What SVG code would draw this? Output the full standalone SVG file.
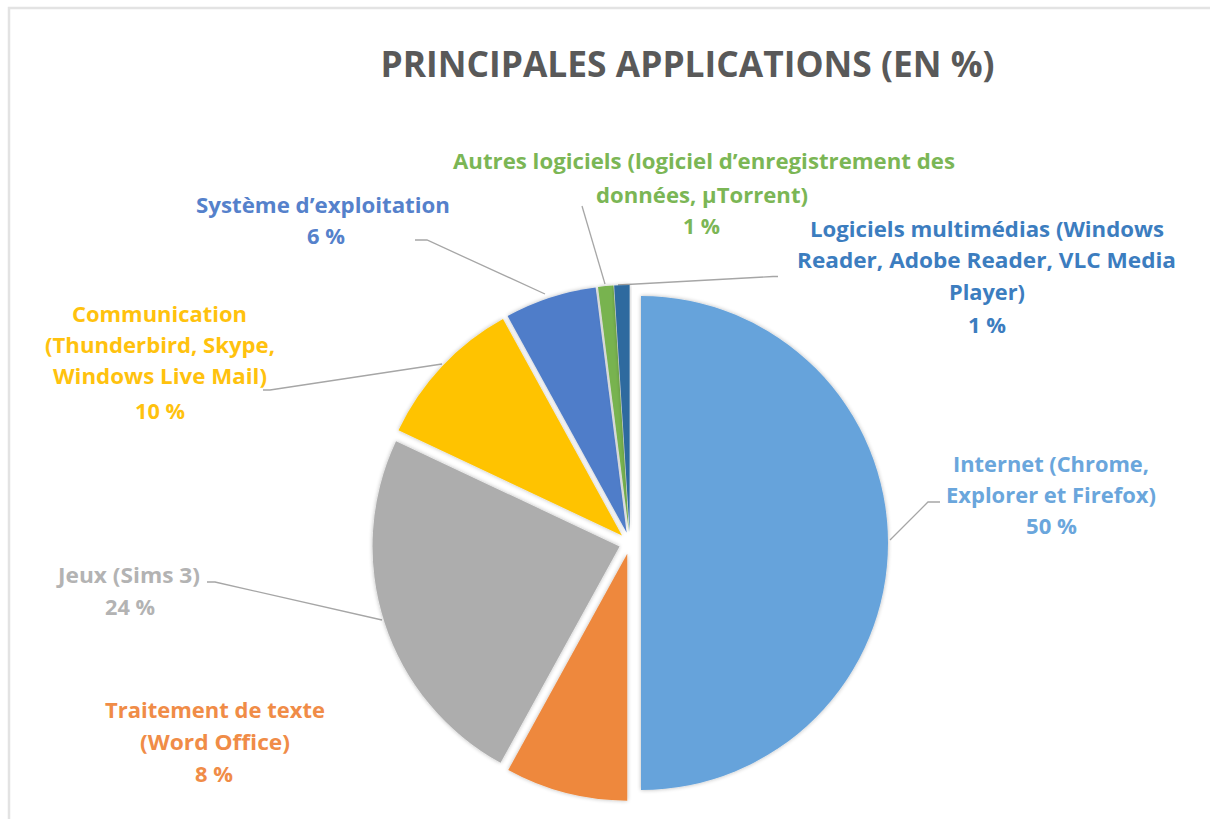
<svg xmlns="http://www.w3.org/2000/svg" width="1210" height="819" viewBox="0 0 1210 819">
<defs>
<filter id="sh" x="-10%" y="-10%" width="120%" height="120%">
<feGaussianBlur in="SourceAlpha" stdDeviation="2.2"/>
<feComponentTransfer><feFuncA type="linear" slope="0.28"/></feComponentTransfer>
<feMerge><feMergeNode/><feMergeNode in="SourceGraphic"/></feMerge>
</filter>
</defs>
<style>
.lbl{font-family:"Open Sans","Liberation Sans",sans-serif;font-weight:bold;font-size:21px;text-anchor:middle}
.title{font-family:"Open Sans","Liberation Sans",sans-serif;font-weight:bold;font-size:36px;text-anchor:middle;fill:#595959}
.lead{fill:none;stroke:#A6A6A6;stroke-width:1.3}
.slice{filter:url(#sh)}
</style>
<rect x="0" y="0" width="1210" height="819" fill="#FFFFFF"/>
<path d="M9,819 V8 H1210" fill="none" stroke="#E3E3E3" stroke-width="2.5"/>
<text class="title" x="687.5" y="77" textLength="614" lengthAdjust="spacingAndGlyphs">PRINCIPALES APPLICATIONS (EN %)</text>

<g id="connectors">
<polyline class="lead" points="415,240 427,240 545,294"/>
<polyline class="lead" points="582,206 605,284"/>
<polyline class="lead" points="618,285 773,276.5 778,276.5"/>
<polyline class="lead" points="263,390 270,390 442,364"/>
<polyline class="lead" points="207,582 215,582 382,620"/>
<polyline class="lead" points="940,502 928,502 890,540"/>
</g>

<g id="internet">
<path class="slice" d="M641,543 L641,296 A247,247 0 0 1 641,790 Z" fill="#66A3DB"/>
<g class="lbl" fill="#6AA6DC">
<text x="1051" y="472" textLength="196" lengthAdjust="spacingAndGlyphs">Internet (Chrome,</text>
<text x="1051" y="503" textLength="210" lengthAdjust="spacingAndGlyphs">Explorer et Firefox)</text>
<text x="1051.5" y="534" textLength="51" lengthAdjust="spacingAndGlyphs">50 %</text>
</g>
</g>

<g id="traitement">
<path class="slice" d="M627.26,553.65 L627.26,800.65 A247,247 0 0 1 508.26,770.1 Z" fill="#EE883C"/>
<g class="lbl" fill="#F08C47">
<text x="215" y="718" textLength="220" lengthAdjust="spacingAndGlyphs">Traitement de texte</text>
<text x="215" y="750" textLength="150" lengthAdjust="spacingAndGlyphs">(Word Office)</text>
<text x="214" y="782" textLength="38" lengthAdjust="spacingAndGlyphs">8 %</text>
</g>
</g>

<g id="jeux">
<path class="slice" d="M619.54,546.4 L500.54,762.85 A247,247 0 0 1 396.05,441.23 Z" fill="#ADADAD"/>
<g class="lbl" fill="#B3B3B3">
<text x="129" y="583" textLength="142" lengthAdjust="spacingAndGlyphs">Jeux (Sims 3)</text>
<text x="130" y="615" textLength="50" lengthAdjust="spacingAndGlyphs">24 %</text>
</g>
</g>

<g id="communication">
<path class="slice" d="M621.98,535.47 L398.49,430.3 A247,247 0 0 1 502.98,319.02 Z" fill="#FFC300"/>
<g class="lbl" fill="#FFC20E">
<text x="159.5" y="322" textLength="175" lengthAdjust="spacingAndGlyphs">Communication</text>
<text x="160" y="353" textLength="230" lengthAdjust="spacingAndGlyphs">(Thunderbird, Skype,</text>
<text x="160" y="384" textLength="214" lengthAdjust="spacingAndGlyphs">Windows Live Mail)</text>
<text x="160" y="419" textLength="50" lengthAdjust="spacingAndGlyphs">10 %</text>
</g>
</g>

<g id="systeme">
<path class="slice" d="M626.6,532.54 L507.6,316.09 A247,247 0 0 1 595.65,287.49 Z" fill="#4F7DC9"/>
<g class="lbl" fill="#5581CB">
<text x="323" y="213" textLength="254" lengthAdjust="spacingAndGlyphs">Système d’exploitation</text>
<text x="326" y="244" textLength="38" lengthAdjust="spacingAndGlyphs">6 %</text>
</g>
</g>

<g id="autres">
<path class="slice" d="M628.96,532.05 L598.01,287 A247,247 0 0 1 613.45,285.54 Z" fill="#78B350"/>
<g class="lbl" fill="#7BB655">
<text x="704" y="169" textLength="502" lengthAdjust="spacingAndGlyphs">Autres logiciels (logiciel d’enregistrement des</text>
<text x="702" y="203" textLength="212" lengthAdjust="spacingAndGlyphs">données, µTorrent)</text>
<text x="701.5" y="234" textLength="37" lengthAdjust="spacingAndGlyphs">1 %</text>
</g>
</g>

<g id="multimedias">
<path class="slice" d="M629.65,532.01 L614.14,285.5 A247,247 0 0 1 629.65,285.01 Z" fill="#2D6A9F"/>
<g class="lbl" fill="#3C7DBF">
<text x="987" y="237" textLength="354" lengthAdjust="spacingAndGlyphs">Logiciels multimédias (Windows</text>
<text x="986.5" y="268" textLength="379" lengthAdjust="spacingAndGlyphs">Reader, Adobe Reader, VLC Media</text>
<text x="987" y="300" textLength="76" lengthAdjust="spacingAndGlyphs">Player)</text>
<text x="987" y="333" textLength="38" lengthAdjust="spacingAndGlyphs">1 %</text>
</g>
</g>
</svg>
